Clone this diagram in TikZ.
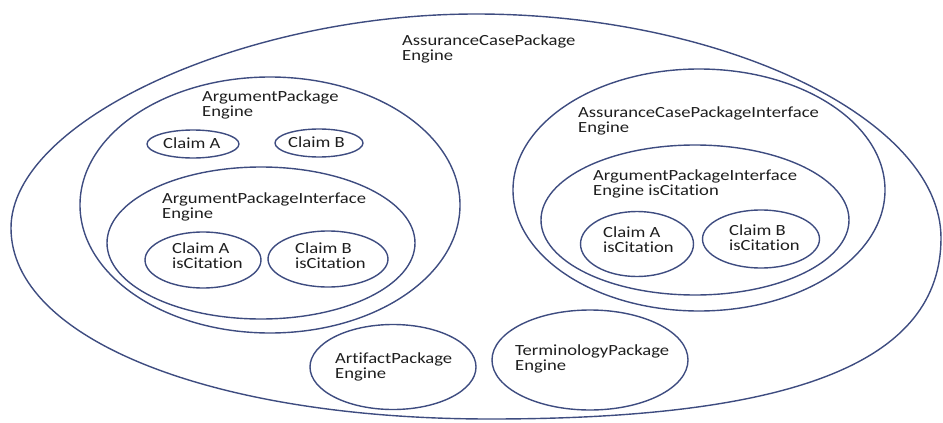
\documentclass[tikz,border=0pt]{standalone}
\usepackage{fontspec}
\setmainfont{Carlito}[FakeStretch=1.2, Ligatures=NoCommon]
\usepackage{tikz}
\usetikzlibrary{shapes.geometric}

\begin{document}
\begin{tikzpicture}[x=1pt,y=-1pt,
  pkgline/.style={draw=colLine, line width=1.4pt},
  pkg/.style={pkgline, ellipse, inner sep=0pt},
  lbl/.style={anchor=north west, inner sep=0pt, align=left, text=colText,
              font=\fontsize{15.5}{15}\selectfont}]

% Colori
\definecolor{colLine}{HTML}{3E4C80}
\definecolor{colText}{HTML}{1E1E1E}

\useasboundingbox (0,0) rectangle (943,423);

% Package esterno (forma a uovo, piu' piena in basso)
\draw[pkgline] (11,228) .. controls (11,121) and (243,14) .. (476,14)
  .. controls (723,14) and (941,119) .. (941,238)
  .. controls (941,361) and (797,419) .. (490,419)
  .. controls (212,419) and (11,339) .. cycle;
\node[lbl] (acpTxt) at (402,34.5) {AssuranceCasePackage\\Engine};

% Argument package (sinistra)
\node[pkg, minimum width=380, minimum height=256] (ap) at (270,205) {};
\node[lbl] (apTxt) at (202,90.5) {ArgumentPackage\\Engine};
\node[pkg, minimum width=92, minimum height=28] (claimA) at (193,144) {};
\node[lbl] (claimATxt) at (163,137.5) {Claim A};
\node[pkg, minimum width=88, minimum height=28] (claimB) at (319,143) {};
\node[lbl] (claimBTxt) at (288,136.5) {Claim B};

% Interface dentro l'argument package
\node[pkg, minimum width=308, minimum height=152] (api) at (261,243) {};
\node[lbl] (apiTxt) at (162,192.5) {ArgumentPackageInterface\\Engine};
\node[pkg, minimum width=116, minimum height=56] (apiA) at (203,260) {};
\node[lbl] (apiATxt) at (172,242.5) {Claim A\\isCitation};
\node[pkg, minimum width=120, minimum height=56] (apiB) at (328,259) {};
\node[lbl] (apiBTxt) at (295,242.5) {Claim B\\isCitation};

% Assurance case interface (destra)
\node[pkg, minimum width=372, minimum height=242] (acpi) at (699,190) {};
\node[lbl] (acpiTxt) at (578,106.5) {AssuranceCasePackageInterface\\Engine};
\node[pkg, minimum width=308, minimum height=150] (apic) at (695,220) {};
\node[lbl] (apicTxt) at (593,169.5) {ArgumentPackageInterface\\Engine isCitation};
\node[pkg, minimum width=113, minimum height=65] (apicA) at (637,244) {};
\node[lbl] (apicATxt) at (603,226.5) {Claim A\\isCitation};
\node[pkg, minimum width=117, minimum height=58] (apicB) at (761,239) {};
\node[lbl] (apicBTxt) at (729,224.5) {Claim B\\isCitation};

% Artifact e terminology
\node[pkg, minimum width=166, minimum height=85] (artifact) at (393,367) {};
\node[lbl] (artifactTxt) at (335,352.5) {ArtifactPackage\\Engine};
\node[pkg, minimum width=196, minimum height=100] (terminology) at (590,360) {};
\node[lbl] (terminologyTxt) at (515,344.5) {TerminologyPackage\\Engine};

\end{tikzpicture}
\end{document}
